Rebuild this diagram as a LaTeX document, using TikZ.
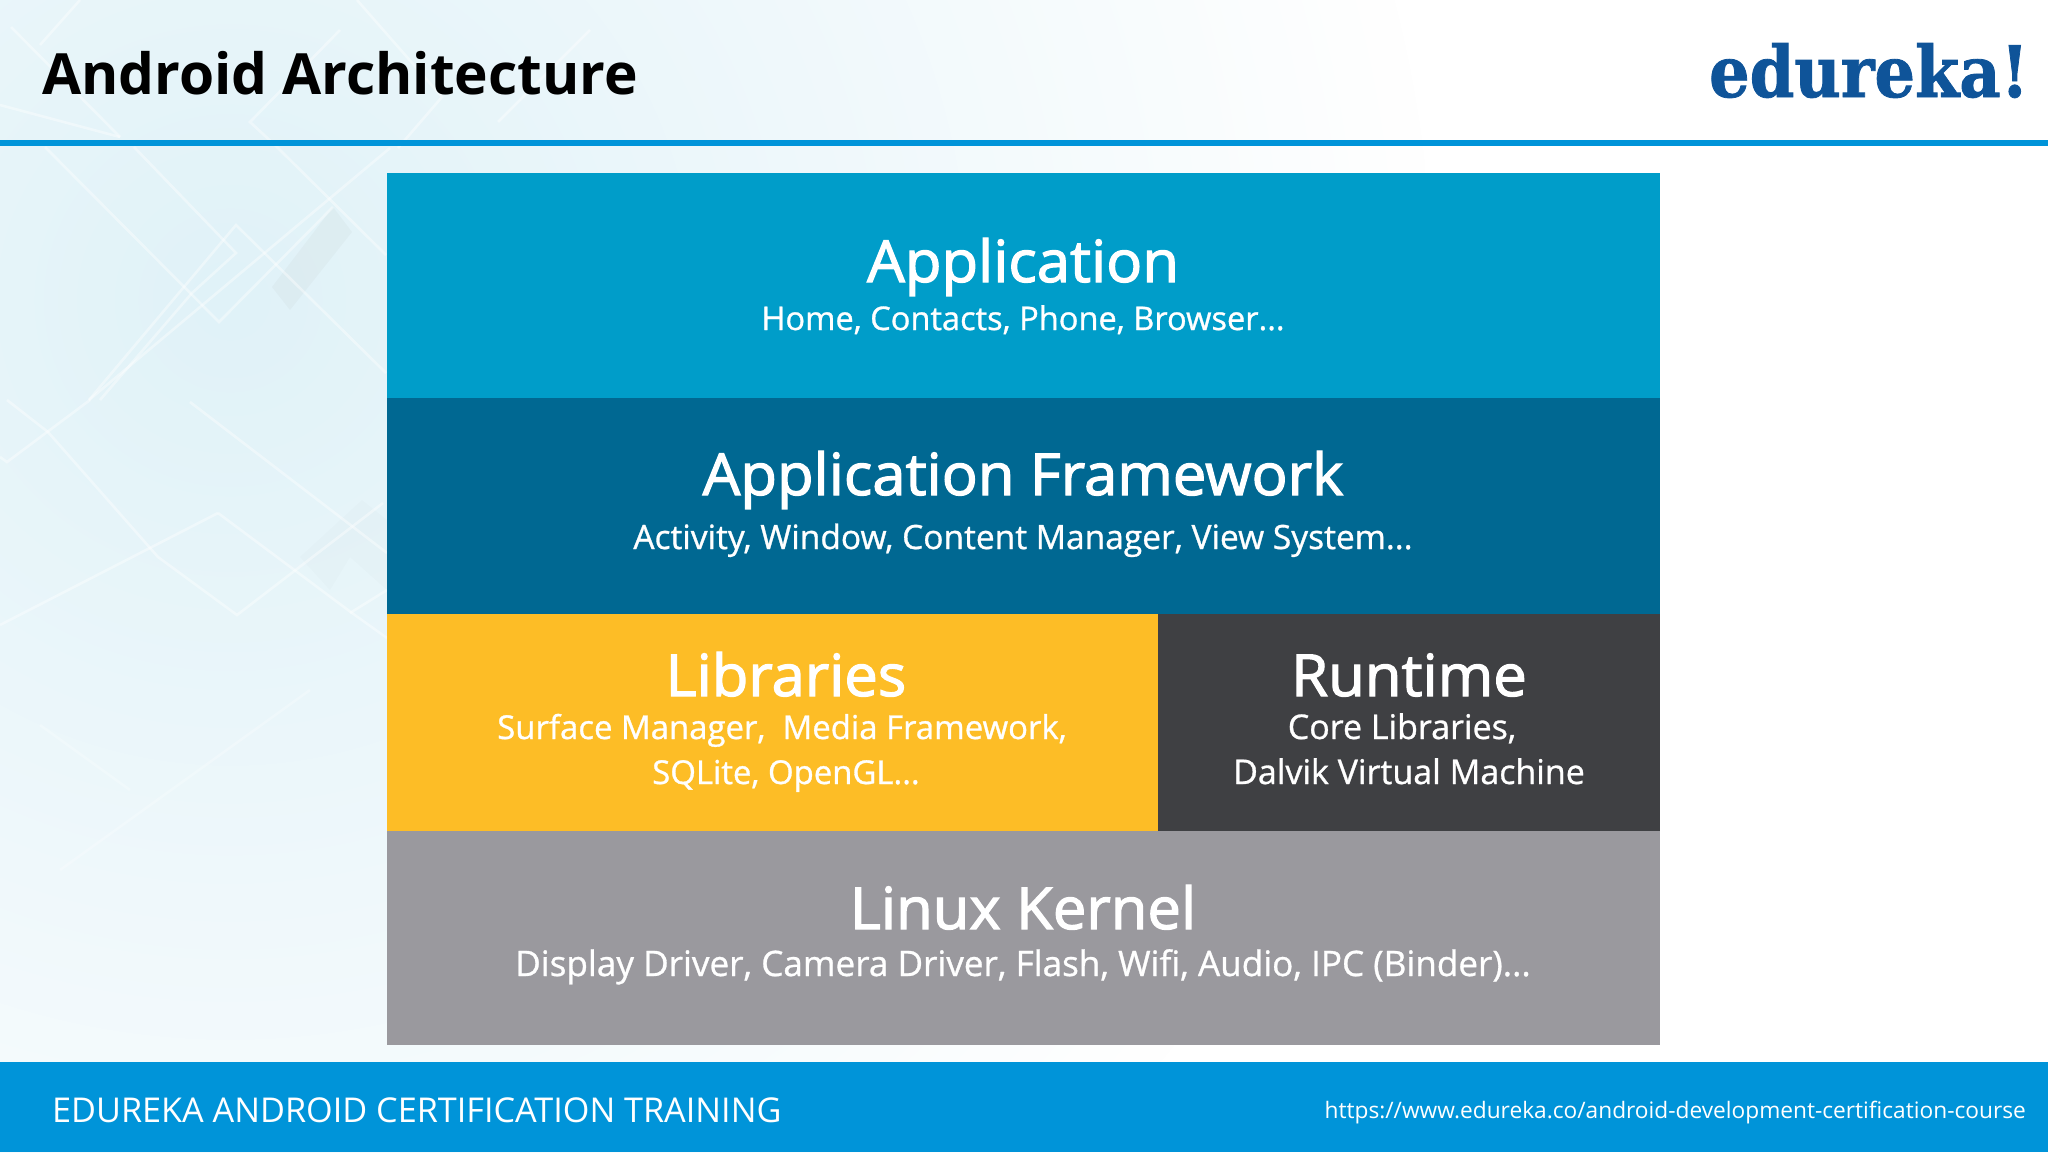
\documentclass[tikz,border=0pt]{standalone}
\usepackage{fontspec}
\usetikzlibrary{fadings}
\setmainfont{Open Sans}
\newfontfamily\osmed[FakeStretch=1.03]{Open Sans}
\newfontfamily\logofont{DejaVu Serif Condensed}
\definecolor{cApp}{HTML}{009DC9}
\definecolor{cFw}{HTML}{006892}
\definecolor{cLib}{HTML}{FDBD26}
\definecolor{cRun}{HTML}{3F4043}
\definecolor{cKer}{HTML}{9A999E}
\definecolor{cBar}{HTML}{0094D9}
\definecolor{cLogo}{HTML}{0F5499}
\definecolor{cBg}{HTML}{E0F2F8}
\tikzfading[name=bgfade, inner color=transparent!0, middle color=transparent!35, outer color=transparent!100]
\newcommand{\strokedtext}[3][1 1 1]{\special{pdf:code q #1 RG #2 w 2 Tr}#3\special{pdf:code 0 Tr Q}}
\tikzset{
  layer/.style={anchor=north west, inner sep=0pt, outer sep=0pt, minimum width=#1},
  head/.style={anchor=base, text=white, inner sep=0pt, font=\fontsize{#1}{60}\selectfont\osmed},
  head/.default=58,
  sub/.style={anchor=base, text=white, inner sep=0pt, font=\fontsize{#1}{40}\selectfont},
  sub/.default=34,
  glass/.style={white, line width=2.6pt, opacity=.4, line join=miter},
  smudge/.style={fill=#1, draw=none}
}
\begin{document}
\begin{tikzpicture}[x=1pt,y=-1pt]
\useasboundingbox (0,0) rectangle (2048,1152);
\fill[white] (0,0) rectangle (2048,1152);
\fill[cBg, path fading=bgfade, fit fading=true] (-970,-900) rectangle (1430,1500);
% translucent patches
\fill[smudge=gray, opacity=.05] (333,207) -- (352,232) -- (290,310) -- (272,287) -- cycle;
\fill[smudge=gray, opacity=.025] (350,557) -- (387,590) -- (387,520) -- (362,500) -- (300,557) -- (330,590) -- cycle;
% faint diamond outlines
\draw[glass] (277,147) -- (386,255);
\draw[glass] (390,148) -- (89,400);
\draw[glass] (45,147) -- (219,322) -- (333,207);
\draw[glass] (134,147) -- (236,253) -- (192,293) -- (100,400);
\draw[glass] (89,400) -- (236,225) -- (386,373);
\draw[glass] (11,27) -- (120,137);
\draw[glass] (0,105) -- (120,137);
\draw[glass] (40,45) -- (80,0);
\draw[glass] (357,0) -- (442,97) -- (398,148);
\draw[glass] (277,147) -- (250,122) -- (340,30);
\draw[glass] (498,122) -- (590,30);
\draw[glass] (190,402) -- (387,553);
\draw[glass] (218,513) -- (352,613) -- (387,638);
\draw[glass] (218,513) -- (0,625);
\draw[glass] (383,503) -- (237,615) -- (158,557) -- (48,432) -- (7,400);
\draw[glass] (90,400) -- (7,462) -- (0,457);
\draw[glass] (387,590) -- (350,613);
\draw[glass, opacity=.25] (310,690) -- (60,870);
\draw[glass, opacity=.25] (40,725) -- (130,790);
% header / footer
\node[anchor=north west, inner sep=0pt, outer sep=0pt, fill=cBar, minimum width=2048pt, minimum height=6.5pt] (rule) at (0,139.5) {};
\node[anchor=north west, inner sep=0pt, outer sep=0pt, fill=cBar, minimum width=2048pt, minimum height=90pt] (foot) at (0,1062) {};
\node[anchor=base west, inner sep=0pt, font=\fontsize{56.8}{60}\selectfont\bfseries] (title) at (42,94) {Android Architecture};
\node[anchor=base east, inner sep=0pt, text=cLogo, font=\fontsize{71}{80}\selectfont\logofont\bfseries] (logo) at (2029,97) {\strokedtext[0.059 0.329 0.6]{0.8}{edureka!}};
\node[anchor=base west, inner sep=0pt, text=white, font=\fontsize{34.2}{40}\selectfont] (foottext) at (52,1122) {EDUREKA ANDROID CERTIFICATION TRAINING};
\node[anchor=base east, inner sep=0pt, text=white, font=\fontsize{22.7}{30}\selectfont] (url) at (2026,1118) {https://www.edureka.co/android-development-certification-course};
% layers
\node[layer=1273pt, minimum height=225pt, fill=cApp] (app) at (387,173) {};
\node[layer=1273pt, minimum height=216pt, fill=cFw] (fw) at (387,398) {};
\node[layer=771pt, minimum height=217pt, fill=cLib] (lib) at (387,614) {};
\node[layer=502pt, minimum height=217pt, fill=cRun] (run) at (1158,614) {};
\node[layer=1273pt, minimum height=214pt, fill=cKer] (ker) at (387,831) {};
% texts
\node[head] (appH) at (1023,282) {\strokedtext{1.2}{Application}};
\node[sub=32.6] (appS) at (1023,330) {\strokedtext{0.3}{Home, Contacts, Phone, Browser...}};
\node[head] (fwH) at (1023,495) {\strokedtext{1.2}{Application Framework}};
\node[sub=33.5] (fwS) at (1023,549) {\strokedtext{0.3}{Activity, Window, Content Manager, View System...}};
\node[head] (libH) at (786,696) {\strokedtext{1.2}{Libraries}};
\node[sub=32.9] (libS1) at (782,739) {\strokedtext{0.3}{Surface Manager,\ \ Media Framework,}};
\node[sub=32.9] (libS2) at (786,784) {\strokedtext{0.3}{SQLite, OpenGL...}};
\node[head] (runH) at (1409,696) {\strokedtext{1.2}{Runtime}};
\node[sub] (runS1) at (1402,739) {\strokedtext{0.3}{Core Libraries,}};
\node[sub] (runS2) at (1409,784) {\strokedtext{0.3}{Dalvik Virtual Machine}};
\node[head] (kerH) at (1023,929) {\strokedtext{1.2}{Linux Kernel}};
\node[sub=35.1] (kerS) at (1023,976) {\strokedtext{0.3}{Display Driver, Camera Driver, Flash, Wifi, Audio, IPC (Binder)...}};
\end{tikzpicture}
\end{document}
